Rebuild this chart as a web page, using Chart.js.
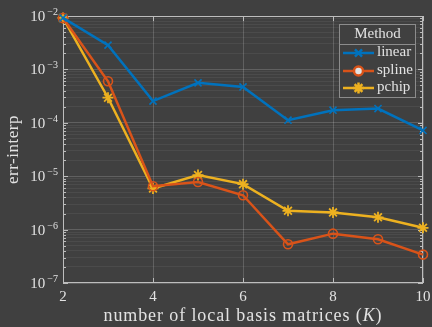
<!DOCTYPE html>
<html>
<head>
<meta charset="utf-8">
<script src="https://cdn.jsdelivr.net/npm/chart.js@4/dist/chart.umd.min.js"></script>
<style>
  html, body { margin: 0; padding: 0; background: #404040; }
  #wrap { width: 432px; height: 327px; }
</style>
</head>
<body>
<div id="wrap"><canvas id="c" width="432" height="327"></canvas></div>
<script>
// Number of local basis matrices K
const categories = [2, 3, 4, 5, 6, 7, 8, 9, 10];
// Interpolation error per method
const linearErr = [9.2e-3, 2.85e-3, 2.55e-4, 5.6e-4, 4.7e-4, 1.12e-4, 1.72e-4, 1.85e-4, 7.2e-5];
const splineErr = [9.2e-3, 6.0e-4, 6.5e-6, 7.8e-6, 4.4e-6, 5.3e-7, 8.4e-7, 6.6e-7, 3.4e-7];
const pchipErr  = [9.2e-3, 2.95e-4, 5.9e-6, 1.05e-5, 7.1e-6, 2.25e-6, 2.1e-6, 1.7e-6, 1.08e-6];
const methodNames = ['linear', 'spline', 'pchip'];
// Tick labels
const xTickValues = [2, 4, 6, 8, 10];
const yDecadeExponents = [-7, -6, -5, -4, -3, -2];

const BG = '#404040';
const TEXT = '#e2e2e2';
const AXIS = '#bdbdbd';
const GRID_MAJOR = 'rgba(255,255,255,0.17)';
const GRID_MINOR = 'rgba(255,255,255,0.06)';
const SERIF = '"Liberation Serif", "DejaVu Serif", serif';

const toPoints = (arr) => categories.map((k, i) => ({ x: k, y: arr[i] }));

const datasets = [
  { label: methodNames[0], data: toPoints(linearErr), borderColor: '#0072BD', pointStyle: 'crossRot', pointRadius: 5, pointBorderWidth: 1.6 },
  { label: methodNames[1], data: toPoints(splineErr), borderColor: '#D95319', pointStyle: 'circle', pointRadius: 4.5, pointBorderWidth: 1.6 },
  { label: methodNames[2], data: toPoints(pchipErr), borderColor: '#EDB120', pointStyle: 'star', pointRadius: 5.5, pointBorderWidth: 1.8 }
].map(d => Object.assign(d, {
  backgroundColor: 'rgba(0,0,0,0)',
  pointBackgroundColor: 'rgba(0,0,0,0)',
  pointBorderColor: d.borderColor,
  borderWidth: 2.5,
  tension: 0,
  clip: false
}));

// Full set of log ticks: 1..9 x 10^n, majors at the decades
function logTicks() {
  const ticks = [];
  for (let e = yDecadeExponents[0]; e <= yDecadeExponents[yDecadeExponents.length - 1]; e++) {
    const maxM = e === yDecadeExponents[yDecadeExponents.length - 1] ? 1 : 9;
    for (let m = 1; m <= maxM; m++) {
      ticks.push({ value: m * Math.pow(10, e), major: m === 1 });
    }
  }
  return ticks;
}

const decorations = {
  id: 'decorations',
  beforeDraw(chart) {
    const { ctx, width, height } = chart;
    ctx.save();
    ctx.fillStyle = BG;
    ctx.fillRect(0, 0, width, height);
    ctx.restore();
  },
  beforeDatasetsDraw(chart) {
    const { ctx, chartArea: a, scales: { x, y } } = chart;
    ctx.save();
    // axes box
    ctx.strokeStyle = AXIS;
    ctx.lineWidth = 1;
    ctx.strokeRect(a.left + 0.5, a.top + 0.5, a.right - a.left - 1, a.bottom - a.top - 1);
    // y tick marks (inside, both sides)
    ctx.beginPath();
    y.ticks.forEach(t => {
      const py = Math.round(y.getPixelForValue(t.value)) + 0.5;
      const len = t.major ? 5 : 3;
      ctx.moveTo(a.left, py); ctx.lineTo(a.left + len, py);
      ctx.moveTo(a.right, py); ctx.lineTo(a.right - len, py);
    });
    // x tick marks
    x.ticks.forEach(t => {
      const px = Math.round(x.getPixelForValue(t.value)) + 0.5;
      ctx.moveTo(px, a.bottom); ctx.lineTo(px, a.bottom - 5);
      ctx.moveTo(px, a.top); ctx.lineTo(px, a.top + 5);
    });
    ctx.stroke();

    // y tick labels: 10^n
    ctx.fillStyle = TEXT;
    yDecadeExponents.forEach(e => {
      const py = y.getPixelForValue(Math.pow(10, e));
      const sup = '\u2212' + Math.abs(e);
      ctx.font = '10px ' + SERIF;
      const supW = ctx.measureText(sup).width;
      const right = a.left - 5;
      ctx.textAlign = 'left';
      ctx.textBaseline = 'alphabetic';
      ctx.fillText(sup, right - supW, py - 1);
      ctx.font = '15px ' + SERIF;
      const baseW = ctx.measureText('10').width;
      ctx.fillText('10', right - supW - baseW - 2, py + 5);
    });

    // x tick labels
    ctx.font = '15px ' + SERIF;
    ctx.textAlign = 'center';
    ctx.textBaseline = 'middle';
    x.ticks.forEach(t => {
      ctx.fillText(String(t.value), x.getPixelForValue(t.value), a.bottom + 14);
    });

    // x axis title with italic K
    ctx.letterSpacing = '0.9px';
    const parts = [
      { s: 'number of local basis matrices (', f: '18px ' + SERIF },
      { s: 'K', f: 'italic 18px ' + SERIF },
      { s: ')', f: '18px ' + SERIF }
    ];
    let total = 0;
    parts.forEach(p => { ctx.font = p.f; p.w = ctx.measureText(p.s).width; total += p.w; });
    let cx = (a.left + a.right) / 2 - total / 2;
    ctx.textAlign = 'left';
    ctx.textBaseline = 'alphabetic';
    parts.forEach(p => { ctx.font = p.f; ctx.fillText(p.s, cx, 321); cx += p.w; });

    // y axis title
    ctx.save();
    ctx.letterSpacing = '0.5px';
    ctx.translate(17, (a.top + a.bottom) / 2);
    ctx.rotate(-Math.PI / 2);
    ctx.font = '17px ' + SERIF;
    ctx.textAlign = 'center';
    ctx.textBaseline = 'middle';
    ctx.fillText('err-interp', 0, -3);
    ctx.restore();
    ctx.restore();
  },
  afterDatasetsDraw(chart) {
    const { ctx } = chart;
    const box = { left: 339.5, top: 24.5, right: 415.5, bottom: 97.5 };
    ctx.save();
    ctx.fillStyle = BG;
    ctx.fillRect(box.left, box.top, box.right - box.left, box.bottom - box.top);
    ctx.strokeStyle = '#8c8c8c';
    ctx.lineWidth = 1;
    ctx.strokeRect(box.left, box.top, box.right - box.left, box.bottom - box.top);
    ctx.beginPath();
    ctx.moveTo(box.left, 44.5); ctx.lineTo(box.right, 44.5);
    ctx.stroke();
    ctx.fillStyle = TEXT;
    ctx.font = '15px ' + SERIF;
    ctx.textAlign = 'center';
    ctx.textBaseline = 'middle';
    ctx.fillText('Method', (box.left + box.right) / 2, 34);
    const rows = [53, 71, 88];
    chart.data.datasets.forEach((ds, i) => {
      const yy = rows[i];
      ctx.strokeStyle = ds.borderColor;
      ctx.lineWidth = ds.borderWidth;
      ctx.beginPath();
      ctx.moveTo(343, yy); ctx.lineTo(374, yy);
      ctx.stroke();
      Chart.helpers.drawPoint(ctx, {
        pointStyle: ds.pointStyle, radius: ds.pointRadius, rotation: 0, borderWidth: ds.pointBorderWidth
      }, 358.5, yy);
      ctx.fillStyle = TEXT;
      ctx.font = '15px ' + SERIF;
      ctx.textAlign = 'left';
      ctx.fillText(ds.label, 377, yy - 1);
    });
    ctx.restore();
  }
};

new Chart(document.getElementById('c'), {
  type: 'line',
  data: { datasets },
  options: {
    responsive: false,
    animation: false,
    layout: { padding: { left: 0, top: 16, right: 9, bottom: 0 } },
    plugins: { legend: { display: false }, tooltip: { enabled: false } },
    scales: {
      x: {
        type: 'linear', min: 2, max: 10,
        afterBuildTicks: (s) => { s.ticks = xTickValues.map(v => ({ value: v })); },
        afterFit: (s) => { s.height = 44; },
        ticks: { display: false },
        grid: { color: GRID_MAJOR, drawTicks: false },
        border: { display: false }
      },
      y: {
        type: 'logarithmic', min: 1e-7, max: 1e-2,
        afterBuildTicks: (s) => { s.ticks = logTicks(); },
        afterFit: (s) => { s.width = 63; },
        ticks: { display: false },
        grid: { color: (c) => (c.tick && c.tick.major ? GRID_MAJOR : GRID_MINOR), drawTicks: false },
        border: { display: false }
      }
    }
  },
  plugins: [decorations]
});
</script>
</body>
</html>
